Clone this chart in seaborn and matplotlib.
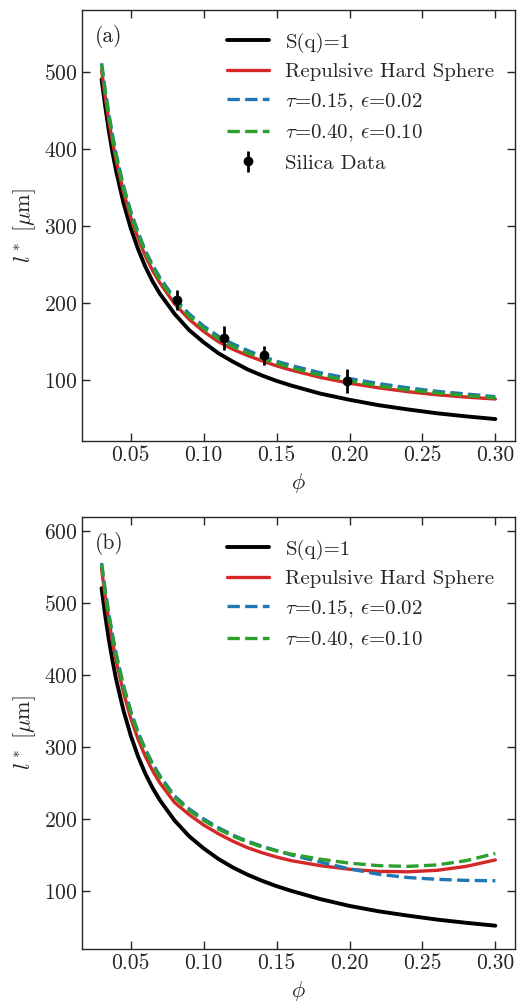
import matplotlib
matplotlib.use("Agg")
import matplotlib.pyplot as plt
import pandas as pd
import seaborn as sns

# volume fraction grid
phi = [0.03, 0.0325, 0.035, 0.0375, 0.04, 0.045, 0.05, 0.055, 0.06, 0.065,
       0.07, 0.08, 0.09, 0.10, 0.11, 0.12, 0.13, 0.14, 0.15, 0.16,
       0.18, 0.20, 0.22, 0.24, 0.26, 0.28, 0.30]

# panel (a)
a_sq1 = [490, 455, 423, 395, 371, 330, 297, 270, 247, 228,
         212, 186, 165, 149, 135, 124, 114, 106, 99, 93,
         82.5, 74.5, 67.5, 62, 57, 53, 49.5]
a_hs = [502, 467, 436, 409, 385, 344, 311, 284, 261, 242,
        226, 199, 179, 163, 150, 140, 132, 125, 118.5, 113,
        103.5, 96, 90, 85, 81, 78, 75.5]
a_t15 = [511, 476, 445, 418, 393, 352, 319, 292, 268, 249,
         233, 206, 186, 170, 157, 147, 138.5, 131, 124.5, 119,
         109.5, 102, 95.5, 90, 85.5, 82, 78.5]
a_t40 = [509, 474, 443, 415, 391, 350, 316, 289, 266, 246.5,
         230, 203, 183, 167, 154, 143.5, 135.5, 128.5, 122, 116,
         106.5, 99, 92.5, 87.5, 83.5, 80, 77]

silica_phi = [0.0814, 0.1138, 0.1414, 0.1986]
silica_l = [204, 155, 132, 99]
silica_err = [12.5, 15.5, 12, 16]

# panel (b)
b_sq1 = [521, 483, 449, 420, 394, 351, 316, 287, 263, 243,
         226, 198, 176, 159, 144.5, 132.5, 122.5, 114, 106.5, 100,
         88.5, 79, 71.5, 65.5, 60, 55.5, 51.5]
b_hs = [548, 509, 476, 446, 420, 376, 340, 311, 287, 267,
        250, 223, 206, 191.5, 179.5, 169, 160, 153, 147, 142,
        135, 130, 127, 126.5, 128.5, 134, 143]
b_t15 = [556, 518, 485, 456, 430, 386, 350, 321, 297, 277,
         260, 232, 214, 200, 188, 177.5, 169, 162, 156, 150,
         140, 130.5, 123, 118.5, 116, 114.5, 114]
b_t40 = [554, 516, 483, 454, 428, 384, 348, 319, 295, 275,
         258, 230, 212, 198, 186, 176, 168, 161, 155.5, 151,
         144, 138.5, 135, 134, 136, 142, 152]

labels = ["S(q)=1", "Repulsive Hard Sphere",
          r"$\tau$=0.15, $\epsilon$=0.02", r"$\tau$=0.40, $\epsilon$=0.10"]
colors = ["black", "#d62728", "#1f77b4", "#2ca02c"]
styles = ["-", "-", "--", "--"]
widths = [2.8, 2.4, 2.4, 2.4]

sns.set_style("ticks")
plt.rcParams["font.family"] = ["cmr10", "DejaVu Serif"]
plt.rcParams["mathtext.fontset"] = "cm"
plt.rcParams["axes.formatter.use_mathtext"] = True
plt.rcParams["font.size"] = 15.5
plt.rcParams["xtick.direction"] = "in"
plt.rcParams["ytick.direction"] = "in"
plt.rcParams["xtick.top"] = True
plt.rcParams["ytick.right"] = True

fig = plt.figure(figsize=(5.25, 10.01), dpi=100)
ax_a = fig.add_axes([0.156, 0.5594, 0.825, 0.4306])
ax_b = fig.add_axes([0.156, 0.0519, 0.825, 0.4316])

panels = [
    (ax_a, [a_sq1, a_hs, a_t15, a_t40], "(a)", (21, 580), [100, 200, 300, 400, 500]),
    (ax_b, [b_sq1, b_hs, b_t15, b_t40], "(b)", (19, 620), [100, 200, 300, 400, 500, 600]),
]

for ax, series, tag, ylim, yt in panels:
    for vals, lab, c, ls, lw in zip(series, labels, colors, styles, widths):
        df = pd.DataFrame({"phi": phi, "l": vals})
        sns.lineplot(data=df, x="phi", y="l", ax=ax, color=c, linestyle=ls,
                     linewidth=lw, label=lab)
    if tag == "(a)":
        ax.errorbar(silica_phi, silica_l, yerr=silica_err, fmt="o", color="black",
                    ms=6, elinewidth=2, capsize=0, label="Silica Data")
    ax.set_xlim(0.0165, 0.3135)
    ax.set_ylim(*ylim)
    ax.set_xticks([0.05, 0.10, 0.15, 0.20, 0.25, 0.30])
    ax.set_xticklabels(["0.05", "0.10", "0.15", "0.20", "0.25", "0.30"])
    ax.set_yticks(yt)
    ax.tick_params(length=6, width=1, labelsize=15.5)
    for s in ax.spines.values():
        s.set_linewidth(1.0)
    ax.set_xlabel(r"$\phi$", fontsize=16)
    ax.set_ylabel(r"$l^*$ [$\mu$m]", fontsize=16)
    ax.text(0.03, 0.965, tag, transform=ax.transAxes, fontsize=15.5, va="top")
    ax.legend(loc="upper right", bbox_to_anchor=(0.972, 0.967), borderaxespad=0,
              frameon=False, fontsize=15, handlelength=2.0, labelspacing=0.47)

fig.savefig("out.png", dpi=100)
